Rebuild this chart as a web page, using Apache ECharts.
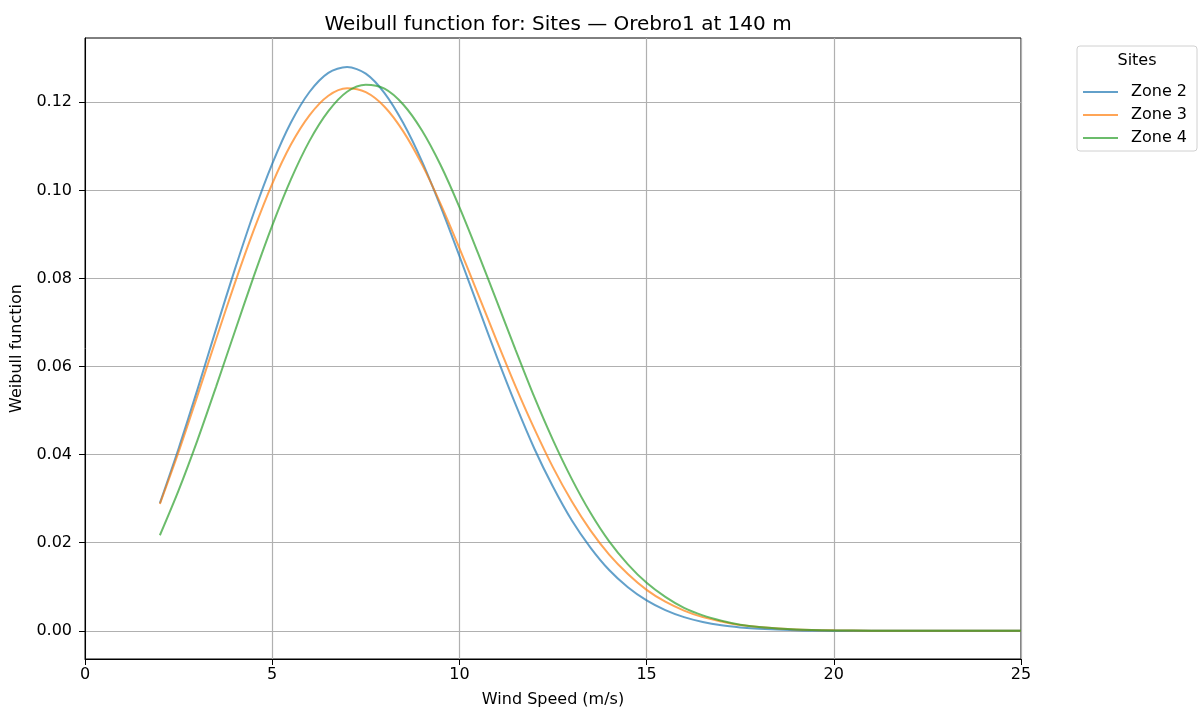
<!DOCTYPE html>
<html>
<head>
<meta charset="utf-8">
<title>Weibull function</title>
<script src="https://cdn.jsdelivr.net/npm/echarts@6/dist/echarts.min.js"></script>
<style>
  html, body { margin: 0; padding: 0; background: #fff; }
  #main { width: 1202px; height: 715px; }
</style>
</head>
<body>
<div id="main"></div>
<script>
// wind speeds (m/s) where the curves were read
var speeds = [2, 2.5, 3, 3.5, 4, 4.5, 5, 5.5, 6, 6.5, 7, 7.5, 8, 8.5, 9, 9.5, 10, 10.5, 11, 11.5,
  12, 12.5, 13, 13.5, 14, 14.5, 15, 15.5, 16, 16.5, 17, 17.5, 18, 19, 20, 21, 22, 23, 24, 25];

var zone2 = [0.0290, 0.0414, 0.0547, 0.0685, 0.0820, 0.0947, 0.1060, 0.1154, 0.1224, 0.1267, 0.1280, 0.1265,
  0.1221, 0.1153, 0.1066, 0.0963, 0.0851, 0.0736, 0.0622, 0.0514, 0.0414, 0.0327, 0.0251, 0.0189,
  0.0138, 0.0099, 0.0069, 0.0047, 0.0031, 0.0020, 0.00125, 0.00077, 0.00045, 0.00015, 0.00004,
  0.00001, 0, 0, 0, 0];

var zone3 = [0.0288, 0.0406, 0.0533, 0.0662, 0.0789, 0.0908, 0.1015, 0.1104, 0.1171, 0.1215, 0.1232, 0.1223,
  0.1190, 0.1134, 0.1059, 0.0969, 0.0869, 0.0764, 0.0658, 0.0555, 0.0459, 0.0371, 0.0294, 0.0228,
  0.0173, 0.0129, 0.0093, 0.0066, 0.0046, 0.0031, 0.0021, 0.0013, 0.00084, 0.00031, 0.00010,
  0.00003, 0.00001, 0, 0, 0];

var zone4 = [0.0217, 0.0319, 0.0432, 0.0554, 0.0679, 0.0803, 0.0920, 0.1025, 0.1113, 0.1180, 0.1224, 0.1240,
  0.1231, 0.1195, 0.1136, 0.1057, 0.0962, 0.0857, 0.0748, 0.0638, 0.0531, 0.0433, 0.0345, 0.0268,
  0.0203, 0.0151, 0.0109, 0.0077, 0.0052, 0.0035, 0.0023, 0.0014, 0.00088, 0.00031, 0.00009,
  0.00003, 0.00001, 0, 0, 0];

var zoneNames = ['Zone 2', 'Zone 3', 'Zone 4'];
var yTicks = [0, 0.02, 0.04, 0.06, 0.08, 0.10, 0.12];

function pairs(vals) {
  return speeds.map(function (s, i) { return [s, vals[i]]; });
}

var colors = ['rgba(31,119,180,0.7)', 'rgba(255,127,14,0.7)', 'rgba(44,160,44,0.7)'];
var font = 'DejaVu Sans';
var fs = 16;

var chart = echarts.init(document.getElementById('main'), null, { renderer: 'canvas' });

var series = [zone2, zone3, zone4].map(function (vals, i) {
  return {
    name: zoneNames[i],
    type: 'line',
    data: pairs(vals),
    smooth: 0.3,
    symbol: 'none',
    lineStyle: { width: 2, color: colors[i] },
    itemStyle: { color: colors[i] }
  };
});

chart.setOption({
  animation: false,
  textStyle: { fontFamily: font },
  title: {
    text: 'Weibull function for: Sites \u2014 Orebro1 at 140 m',
    left: 553,
    textAlign: 'center',
    top: 10,
    textStyle: { fontFamily: font, fontSize: 20, fontWeight: 'normal', color: '#000' }
  },
  grid: {
    left: 85, right: 181, top: 38, bottom: 56,
    show: true, borderColor: '#000', borderWidth: 1, backgroundColor: '#fff'
  },
  legend: {
    data: zoneNames,
    orient: 'vertical',
    left: 1078,
    top: 79,
    icon: 'rect',
    itemWidth: 35,
    itemHeight: 2,
    itemGap: 7,
    textStyle: { fontFamily: font, fontSize: fs, color: '#000', padding: [0, 0, 0, 8] }
  },
  graphic: [
    {
      type: 'rect',
      shape: { x: 1077, y: 46, width: 120, height: 105, r: 3 },
      style: { fill: 'rgba(255,255,255,0.8)', stroke: '#d0d0d0', lineWidth: 1 },
      z: -1
    },
    {
      type: 'text',
      x: 1137, y: 61,
      style: { text: 'Sites', fontFamily: font, fontSize: fs, fill: '#000', align: 'center', verticalAlign: 'middle' }
    }
  ],
  xAxis: {
    type: 'value',
    min: 0, max: 25, interval: 5,
    name: 'Wind Speed (m/s)',
    nameLocation: 'middle',
    nameGap: 33,
    nameTextStyle: { fontFamily: font, fontSize: fs, color: '#000' },
    axisLine: { show: true, onZero: false, lineStyle: { color: '#000', width: 1 } },
    axisTick: { show: true, length: 6, lineStyle: { color: '#000' } },
    axisLabel: { fontFamily: font, fontSize: fs, color: '#000', margin: 8 },
    splitLine: { show: true, lineStyle: { color: '#b0b0b0', width: 1.2 } }
  },
  yAxis: {
    type: 'value',
    min: -0.0064, max: 0.1346,
    name: 'Weibull function',
    nameLocation: 'middle',
    nameGap: 60,
    nameTextStyle: { fontFamily: font, fontSize: fs, color: '#000' },
    axisLine: { show: true, onZero: false, lineStyle: { color: '#000', width: 1 } },
    axisTick: { show: true, length: 6, lineStyle: { color: '#000' }, customValues: yTicks },
    axisLabel: {
      fontFamily: font, fontSize: fs, color: '#000', margin: 13,
      customValues: yTicks,
      formatter: function (v) { return v.toFixed(2); }
    },
    splitLine: { show: true, lineStyle: { color: '#b0b0b0', width: 1.2 } }
  },
  series: series
});
</script>
</body>
</html>
